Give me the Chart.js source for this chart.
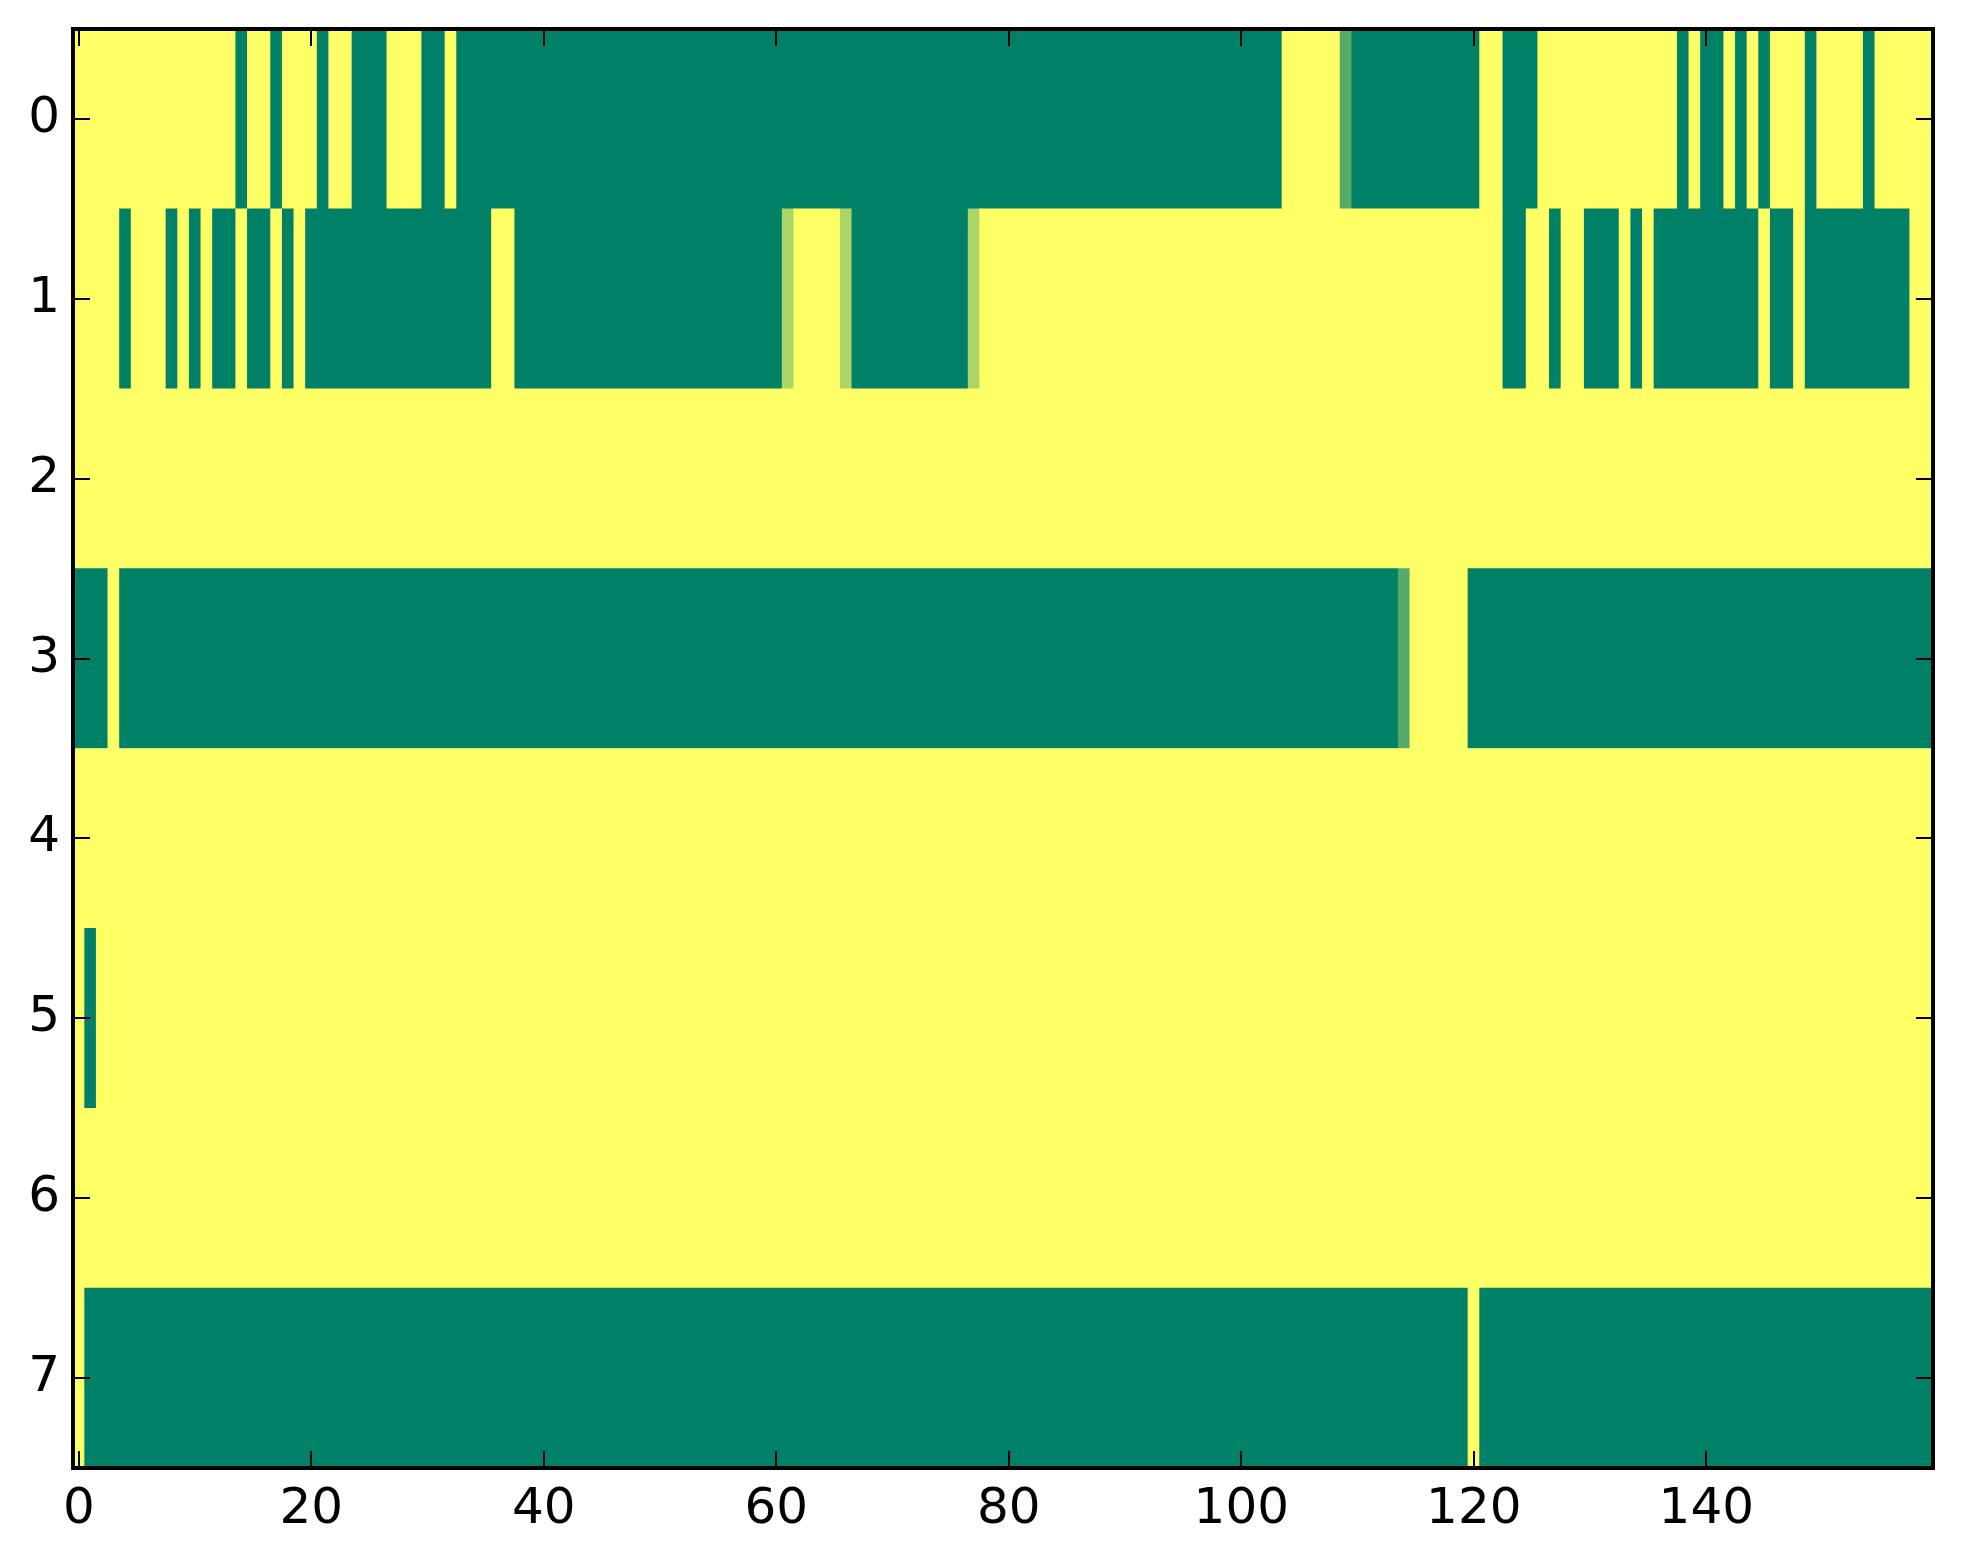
<!DOCTYPE html>
<html>
<head>
<meta charset="utf-8">
<script src="https://cdn.jsdelivr.net/npm/chart.js@4.4.0/dist/chart.umd.min.js"></script>
<style>
  html, body { margin: 0; padding: 0; background: #ffffff; }
  #chart { display: block; }
</style>
</head>
<body>
<canvas id="chart" width="1963" height="1564"></canvas>
<script>
// row labels (y axis) and x tick values
const rowLabels = ['0', '1', '2', '3', '4', '5', '6', '7'];
const xTicks = [0, 20, 40, 60, 80, 100, 120, 140];

// cell values per row, 160 columns each (0 = green end, 1 = yellow end)
const row0 = [
  1, 1, 1, 1, 1, 1, 1, 1, 1, 1, 1, 1, 1, 1, 0, 1, 1, 0, 1, 1,
  1, 0, 1, 1, 0, 0, 0, 1, 1, 1, 0, 0, 1, 0, 0, 0, 0, 0, 0, 0,
  0, 0, 0, 0, 0, 0, 0, 0, 0, 0, 0, 0, 0, 0, 0, 0, 0, 0, 0, 0,
  0, 0, 0, 0, 0, 0, 0, 0, 0, 0, 0, 0, 0, 0, 0, 0, 0, 0, 0, 0,
  0, 0, 0, 0, 0, 0, 0, 0, 0, 0, 0, 0, 0, 0, 0, 0, 0, 0, 0, 0,
  0, 0, 0, 0, 1, 1, 1, 1, 1, 0.33, 0, 0, 0, 0, 0, 0, 0, 0, 0, 0,
  0, 1, 1, 0, 0, 0, 1, 1, 1, 1, 1, 1, 1, 1, 1, 1, 1, 1, 0, 1,
  0, 0, 1, 0, 1, 0, 1, 1, 1, 0, 1, 1, 1, 1, 0, 1, 1, 1, 1, 1
];
const row1 = [
  1, 1, 1, 1, 0, 1, 1, 1, 0, 1, 0, 1, 0, 0, 1, 0, 0, 1, 0, 1,
  0, 0, 0, 0, 0, 0, 0, 0, 0, 0, 0, 0, 0, 0, 0, 0, 1, 1, 0, 0,
  0, 0, 0, 0, 0, 0, 0, 0, 0, 0, 0, 0, 0, 0, 0, 0, 0, 0, 0, 0,
  0, 0.67, 1, 1, 1, 1, 0.67, 0, 0, 0, 0, 0, 0, 0, 0, 0, 0, 0.67, 1, 1,
  1, 1, 1, 1, 1, 1, 1, 1, 1, 1, 1, 1, 1, 1, 1, 1, 1, 1, 1, 1,
  1, 1, 1, 1, 1, 1, 1, 1, 1, 1, 1, 1, 1, 1, 1, 1, 1, 1, 1, 1,
  1, 1, 1, 0, 0, 1, 1, 0, 1, 1, 0, 0, 0, 1, 0, 1, 0, 0, 0, 0,
  0, 0, 0, 0, 0, 1, 0, 0, 1, 0, 0, 0, 0, 0, 0, 0, 0, 0, 1, 1
];
const row2 = [
  1, 1, 1, 1, 1, 1, 1, 1, 1, 1, 1, 1, 1, 1, 1, 1, 1, 1, 1, 1,
  1, 1, 1, 1, 1, 1, 1, 1, 1, 1, 1, 1, 1, 1, 1, 1, 1, 1, 1, 1,
  1, 1, 1, 1, 1, 1, 1, 1, 1, 1, 1, 1, 1, 1, 1, 1, 1, 1, 1, 1,
  1, 1, 1, 1, 1, 1, 1, 1, 1, 1, 1, 1, 1, 1, 1, 1, 1, 1, 1, 1,
  1, 1, 1, 1, 1, 1, 1, 1, 1, 1, 1, 1, 1, 1, 1, 1, 1, 1, 1, 1,
  1, 1, 1, 1, 1, 1, 1, 1, 1, 1, 1, 1, 1, 1, 1, 1, 1, 1, 1, 1,
  1, 1, 1, 1, 1, 1, 1, 1, 1, 1, 1, 1, 1, 1, 1, 1, 1, 1, 1, 1,
  1, 1, 1, 1, 1, 1, 1, 1, 1, 1, 1, 1, 1, 1, 1, 1, 1, 1, 1, 1
];
const row3 = [
  0, 0, 0, 1, 0, 0, 0, 0, 0, 0, 0, 0, 0, 0, 0, 0, 0, 0, 0, 0,
  0, 0, 0, 0, 0, 0, 0, 0, 0, 0, 0, 0, 0, 0, 0, 0, 0, 0, 0, 0,
  0, 0, 0, 0, 0, 0, 0, 0, 0, 0, 0, 0, 0, 0, 0, 0, 0, 0, 0, 0,
  0, 0, 0, 0, 0, 0, 0, 0, 0, 0, 0, 0, 0, 0, 0, 0, 0, 0, 0, 0,
  0, 0, 0, 0, 0, 0, 0, 0, 0, 0, 0, 0, 0, 0, 0, 0, 0, 0, 0, 0,
  0, 0, 0, 0, 0, 0, 0, 0, 0, 0, 0, 0, 0, 0, 0.33, 1, 1, 1, 1, 1,
  0, 0, 0, 0, 0, 0, 0, 0, 0, 0, 0, 0, 0, 0, 0, 0, 0, 0, 0, 0,
  0, 0, 0, 0, 0, 0, 0, 0, 0, 0, 0, 0, 0, 0, 0, 0, 0, 0, 0, 0
];
const row4 = row2.slice();
const row5 = [
  1, 0, 1, 1, 1, 1, 1, 1, 1, 1, 1, 1, 1, 1, 1, 1, 1, 1, 1, 1,
  1, 1, 1, 1, 1, 1, 1, 1, 1, 1, 1, 1, 1, 1, 1, 1, 1, 1, 1, 1,
  1, 1, 1, 1, 1, 1, 1, 1, 1, 1, 1, 1, 1, 1, 1, 1, 1, 1, 1, 1,
  1, 1, 1, 1, 1, 1, 1, 1, 1, 1, 1, 1, 1, 1, 1, 1, 1, 1, 1, 1,
  1, 1, 1, 1, 1, 1, 1, 1, 1, 1, 1, 1, 1, 1, 1, 1, 1, 1, 1, 1,
  1, 1, 1, 1, 1, 1, 1, 1, 1, 1, 1, 1, 1, 1, 1, 1, 1, 1, 1, 1,
  1, 1, 1, 1, 1, 1, 1, 1, 1, 1, 1, 1, 1, 1, 1, 1, 1, 1, 1, 1,
  1, 1, 1, 1, 1, 1, 1, 1, 1, 1, 1, 1, 1, 1, 1, 1, 1, 1, 1, 1
];
const row6 = row2.slice();
const row7 = [
  1, 0, 0, 0, 0, 0, 0, 0, 0, 0, 0, 0, 0, 0, 0, 0, 0, 0, 0, 0,
  0, 0, 0, 0, 0, 0, 0, 0, 0, 0, 0, 0, 0, 0, 0, 0, 0, 0, 0, 0,
  0, 0, 0, 0, 0, 0, 0, 0, 0, 0, 0, 0, 0, 0, 0, 0, 0, 0, 0, 0,
  0, 0, 0, 0, 0, 0, 0, 0, 0, 0, 0, 0, 0, 0, 0, 0, 0, 0, 0, 0,
  0, 0, 0, 0, 0, 0, 0, 0, 0, 0, 0, 0, 0, 0, 0, 0, 0, 0, 0, 0,
  0, 0, 0, 0, 0, 0, 0, 0, 0, 0, 0, 0, 0, 0, 0, 0, 0, 0, 0, 0,
  1, 0, 0, 0, 0, 0, 0, 0, 0, 0, 0, 0, 0, 0, 0, 0, 0, 0, 0, 0,
  0, 0, 0, 0, 0, 0, 0, 0, 0, 0, 0, 0, 0, 0, 0, 0, 0, 0, 0, 0
];
const rows = [row0, row1, row2, row3, row4, row5, row6, row7];

// matplotlib "summer" colormap
function summer(v) {
  const r = Math.round(255 * v);
  const g = Math.round(255 * (0.5 + 0.5 * v));
  return `rgb(${r}, ${g}, 102)`;
}

// join neighbouring cells with the same value into one floating bar
const cells = [];
const cellColors = [];
rows.forEach((row, r) => {
  let start = 0;
  for (let c = 1; c <= row.length; c++) {
    if (c === row.length || row[c] !== row[start]) {
      cells.push({ x: [start - 0.5, c - 0.5], y: rowLabels[r] });
      cellColors.push(summer(row[start]));
      start = c;
    }
  }
});

const TICK_LEN = 17;

// inward ticks on all four sides plus the black frame
const framePlugin = {
  id: 'frame',
  afterDatasetsDraw(chart) {
    const { ctx, chartArea: a, scales } = chart;
    ctx.save();
    ctx.strokeStyle = '#000';
    ctx.lineWidth = 2;
    ctx.beginPath();
    xTicks.forEach(v => {
      const px = Math.round(scales.x.getPixelForValue(v));
      ctx.moveTo(px, a.bottom);
      ctx.lineTo(px, a.bottom - TICK_LEN);
      ctx.moveTo(px, a.top);
      ctx.lineTo(px, a.top + TICK_LEN);
    });
    rowLabels.forEach((_, i) => {
      const py = Math.round(scales.y.getPixelForTick(i));
      ctx.moveTo(a.left, py);
      ctx.lineTo(a.left + TICK_LEN, py);
      ctx.moveTo(a.right, py);
      ctx.lineTo(a.right - TICK_LEN, py);
    });
    ctx.stroke();
    ctx.lineWidth = 4;
    ctx.strokeRect(a.left, a.top, a.right - a.left, a.bottom - a.top);
    ctx.restore();
  }
};

const tickFont = { family: 'DejaVu Sans', size: 50 };

new Chart(document.getElementById('chart'), {
  type: 'bar',
  data: {
    labels: rowLabels,
    datasets: [{
      data: cells,
      backgroundColor: cellColors,
      borderWidth: 0,
      barPercentage: 1,
      categoryPercentage: 1,
      grouped: false
    }]
  },
  options: {
    indexAxis: 'y',
    responsive: false,
    devicePixelRatio: 1,
    animation: false,
    layout: { padding: { top: 29, right: 30, left: 0, bottom: 0 } },
    plugins: {
      legend: { display: false },
      tooltip: { enabled: false }
    },
    scales: {
      x: {
        type: 'linear',
        position: 'bottom',
        min: -0.5,
        max: 159.5,
        grid: { display: false, drawTicks: false },
        border: { display: false },
        afterBuildTicks: scale => { scale.ticks = xTicks.map(v => ({ value: v })); },
        afterFit: scale => { scale.height = 96; },
        ticks: { color: '#000', font: tickFont, padding: 12, maxRotation: 0, autoSkip: false }
      },
      y: {
        type: 'category',
        grid: { display: false, drawTicks: false },
        border: { display: false },
        afterFit: scale => {
          scale.width = 73;
          // labels sit inside the row bands, no extra room needed above/below
          scale.paddingTop = 0;
          scale.paddingBottom = 0;
        },
        ticks: { color: '#000', font: tickFont, padding: 13, autoSkip: false }
      }
    }
  },
  plugins: [framePlugin]
});
</script>
</body>
</html>
